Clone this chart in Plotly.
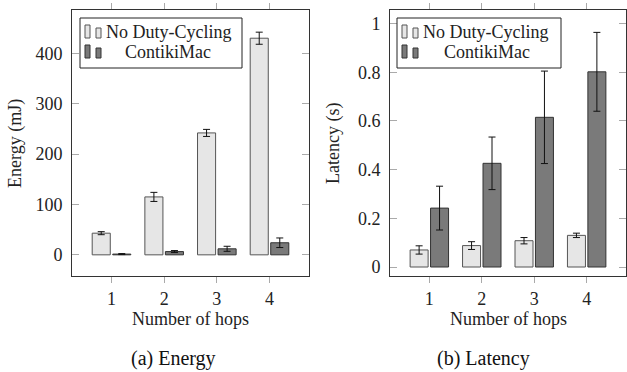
import plotly.graph_objects as go

hops = [1, 2, 3, 4]
energy_nodc = [43, 115, 242, 430]
energy_nodc_err = [3, 9, 7, 12]
energy_cmac = [1.5, 6.5, 12, 24]
energy_cmac_err = [1, 2, 5, 9.5]
lat_nodc = [0.07, 0.088, 0.108, 0.13]
lat_nodc_err = [0.017, 0.016, 0.013, 0.009]
lat_cmac = [0.242, 0.426, 0.615, 0.802]
lat_cmac_err = [0.09, 0.108, 0.19, 0.162]
series_names = ["No Duty-Cycling", "ContikiMac"]
captions = ["(a) Energy", "(b) Latency"]
ylabels = ["Energy (mJ)", "Latency (s)"]
xlabel = "Number of hops"

W, H = 627, 372
FONT = "Times New Roman, Liberation Serif, DejaVu Serif, serif"
LIGHT, LIGHT_LINE = "#e6e6e6", "#555555"
DARK, DARK_LINE = "#7a7a7a", "#333333"
TXT = 18

def px(x):
    return x / W

def py(y):
    return 1 - y / H

fig = go.Figure()

panels = [
    ("x", "y", energy_nodc, energy_nodc_err, energy_cmac, energy_cmac_err),
    ("x2", "y2", lat_nodc, lat_nodc_err, lat_cmac, lat_cmac_err),
]
for xa, ya, v1, e1, v2, e2 in panels:
    fig.add_trace(go.Bar(x=hops, y=v1, xaxis=xa, yaxis=ya, name=series_names[0],
                         marker=dict(color=LIGHT, line=dict(color=LIGHT_LINE, width=1)),
                         error_y=dict(type="data", array=e1, color="#111", thickness=1, width=3.5),
                         showlegend=False, hoverinfo="skip"))
    fig.add_trace(go.Bar(x=hops, y=v2, xaxis=xa, yaxis=ya, name=series_names[1],
                         marker=dict(color=DARK, line=dict(color=DARK_LINE, width=1)),
                         error_y=dict(type="data", array=e2, color="#111", thickness=1, width=3.5),
                         showlegend=False, hoverinfo="skip"))

ydom = [py(276), py(10)]
xcommon = dict(range=[0.25, 4.75], tickvals=hops, ticks="outside", ticklen=6,
               tickcolor="#aaaaaa", showline=True, linecolor="#333333", linewidth=1,
               mirror="ticks", showgrid=False, zeroline=False,
               tickfont=dict(family=FONT, size=TXT, color="#222"))
ycommon = dict(ticks="inside", ticklen=7, tickcolor="#aaaaaa", showline=True,
               linecolor="#333333", linewidth=1, mirror="ticks", showgrid=False,
               zeroline=False, ticklabelstandoff=5,
               tickfont=dict(family=FONT, size=TXT, color="#222"))

fig.update_layout(
    width=W, height=H, margin=dict(l=0, r=0, t=0, b=0),
    paper_bgcolor="white", plot_bgcolor="white",
    font=dict(family=FONT),
    barmode="group", bargap=0.22, bargroupgap=0.12,
    xaxis=dict(domain=[px(72), px(309)], anchor="y", **xcommon),
    yaxis=dict(domain=ydom, anchor="x", range=[-42, 486], tickvals=[0, 100, 200, 300, 400], **ycommon),
    xaxis2=dict(domain=[px(390), px(626)], anchor="y2", **xcommon),
    yaxis2=dict(domain=ydom, anchor="x2", range=[-0.037, 1.056],
                tickvals=[0, 0.2, 0.4, 0.6, 0.8, 1], ticktext=["0", "0.2", "0.4", "0.6", "0.8", "1"], **ycommon),
    showlegend=False,
)

annots = []
shapes = []
for i, (xc, yl_x, capx) in enumerate([(190, 15, 173), (508, 333, 483)]):
    annots.append(dict(x=px(xc), y=py(319), xref="paper", yref="paper", text=xlabel,
                       showarrow=False, font=dict(family=FONT, size=TXT, color="#222"),
                       xanchor="center", yanchor="middle"))
    annots.append(dict(x=px(yl_x), y=py(144), xref="paper", yref="paper", text=ylabels[i],
                       textangle=-90, showarrow=False, font=dict(family=FONT, size=TXT, color="#222"),
                       xanchor="center", yanchor="middle"))
    annots.append(dict(x=px(capx), y=py(358), xref="paper", yref="paper", text=captions[i],
                       showarrow=False, font=dict(family=FONT, size=20, color="#111"),
                       xanchor="center", yanchor="middle"))

for (x0, x1, txt_x, ck_x) in [(80, 242, 104, 168), (397, 561, 421, 487)]:
    shapes.append(dict(type="rect", xref="paper", yref="paper", x0=px(x0), x1=px(x1),
                       y0=py(68), y1=py(18), line=dict(color="#222", width=1), fillcolor="white"))
    for row, (fill, line, ty) in enumerate([(LIGHT, LIGHT_LINE, 32), (DARK, DARK_LINE, 52)]):
        ix = x0 + 5
        shapes.append(dict(type="rect", xref="paper", yref="paper", x0=px(ix), x1=px(ix + 5),
                           y0=py(ty + 6), y1=py(ty - 7), line=dict(color=line, width=1), fillcolor=fill))
        shapes.append(dict(type="rect", xref="paper", yref="paper", x0=px(ix + 11), x1=px(ix + 16),
                           y0=py(ty + 6), y1=py(ty - 4), line=dict(color=line, width=1), fillcolor=fill))
    annots.append(dict(x=px(txt_x), y=py(32), xref="paper", yref="paper", text=series_names[0],
                       showarrow=False, font=dict(family=FONT, size=TXT, color="#222"),
                       xanchor="left", yanchor="middle"))
    annots.append(dict(x=px(ck_x), y=py(52), xref="paper", yref="paper", text=series_names[1],
                       showarrow=False, font=dict(family=FONT, size=TXT, color="#222"),
                       xanchor="center", yanchor="middle"))

fig.update_layout(annotations=annots, shapes=shapes)
fig.write_html("out.html", config={"displayModeBar": False, "staticPlot": True},
               post_script="document.body.style.margin='0';document.body.style.padding='0';")
